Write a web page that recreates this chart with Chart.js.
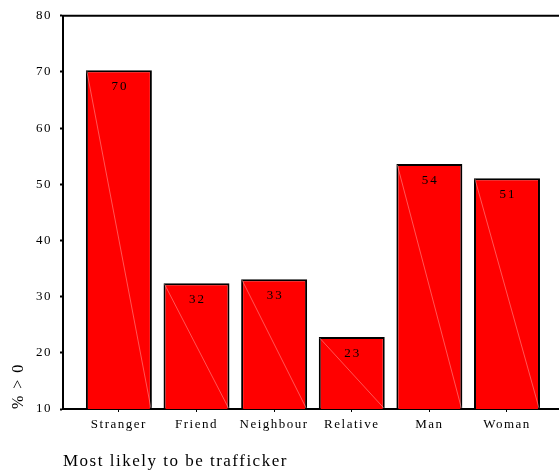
<!DOCTYPE html>
<html>
<head>
<meta charset="utf-8">
<script src="https://cdn.jsdelivr.net/npm/chart.js@4/dist/chart.umd.min.js"></script>
<style>
  html, body { margin: 0; padding: 0; background: #fff; }
  #wrap { width: 559px; height: 472px; }
</style>
</head>
<body>
<div id="wrap"><canvas id="chart" width="559" height="472"></canvas></div>
<script>
const categories = ['Stranger', 'Friend', 'Neighbour', 'Relative', 'Man', 'Woman'];
const percentages = [70.3, 32.4, 33.1, 22.8, 53.6, 51.1];
const yTicks = [10, 20, 30, 40, 50, 60, 70, 80];

const serif = 'Liberation Serif';

// spaced-out letters like the original export
const spacing = {
    id: 'spacing',
    beforeInit(chart) { chart.ctx.letterSpacing = '1.5px'; },
    beforeUpdate(chart) { chart.ctx.letterSpacing = '1.5px'; }
};

const frame = {
    id: 'frame',
    afterDatasetsDraw(chart) {
        const ctx = chart.ctx;
        const area = chart.chartArea;
        const meta = chart.getDatasetMeta(0);
        ctx.save();
        // faint diagonal seam in each bar
        ctx.strokeStyle = 'rgba(255,180,180,0.8)';
        ctx.lineWidth = 0.6;
        meta.data.forEach(bar => {
            const w = bar.width / 2;
            const bottom = Math.min(bar.base, area.bottom);
            ctx.beginPath();
            ctx.moveTo(bar.x - w + 1, bar.y + 1);
            ctx.lineTo(bar.x + w - 1, bottom - 1);
            ctx.stroke();
        });
        // value labels
        ctx.fillStyle = '#000';
        ctx.font = '13px "' + serif + '"';
        ctx.textAlign = 'center';
        ctx.textBaseline = 'middle';
        ctx.letterSpacing = '2px';
        meta.data.forEach((bar, i) => {
            ctx.fillText(String(Math.round(percentages[i])), bar.x + 1, bar.y + 16);
        });
        // top border
        ctx.strokeStyle = '#000';
        ctx.lineWidth = 2;
        ctx.beginPath();
        ctx.moveTo(area.left - 1, area.top);
        ctx.lineTo(area.right, area.top);
        ctx.stroke();
        ctx.restore();
    }
};

new Chart(document.getElementById('chart'), {
    type: 'bar',
    data: {
        datasets: [{
            data: percentages.map((v, i) => ({ x: i, y: v })),
            backgroundColor: '#ff0000',
            borderColor: '#000',
            borderWidth: 2,
            barPercentage: 0.85,
            categoryPercentage: 1,
        }]
    },
    options: {
        responsive: false,
        animation: false,
        layout: { padding: { top: 15, right: 0, left: 0, bottom: 0 } },
        plugins: {
            legend: { display: false },
            tooltip: { enabled: false },
        },
        scales: {
            x: {
                type: 'linear',
                offset: false,
                min: -0.72,
                max: 5.67,
                afterBuildTicks: (scale) => { scale.ticks = categories.map((c, i) => ({ value: i })); },
                afterFit: (scale) => { scale.height = 63; },
                ticks: {
                    callback: (v) => categories[v],
                    color: '#000',
                    font: { family: serif, size: 13 },
                    padding: 5,
                    maxRotation: 0,
                },
                grid: { drawOnChartArea: false, offset: false, tickLength: 3, tickWidth: 1, color: '#000' },
                border: { display: true, color: '#000', width: 2 },
                title: {
                    display: true,
                    text: 'Most likely to be trafficker',
                    align: 'start',
                    color: '#000',
                    font: { family: serif, size: 17 },
                    padding: { top: 13, bottom: 0 },
                },
            },
            y: {
                min: 10,
                max: 80,
                afterBuildTicks: (scale) => { scale.ticks = yTicks.map(v => ({ value: v })); },
                afterFit: (scale) => { scale.width = 63; },
                ticks: {
                    color: '#000',
                    font: { family: serif, size: 13 },
                    padding: 8,
                },
                grid: { drawOnChartArea: false, tickLength: 3, tickWidth: 2, color: '#000' },
                border: { display: true, color: '#000', width: 2 },
                title: {
                    display: true,
                    text: '% > 0',
                    align: 'start',
                    color: '#000',
                    font: { family: serif, size: 16 },
                    padding: { top: 9, bottom: 0 },
                },
            }
        }
    },
    plugins: [spacing, frame]
});
</script>
</body>
</html>
